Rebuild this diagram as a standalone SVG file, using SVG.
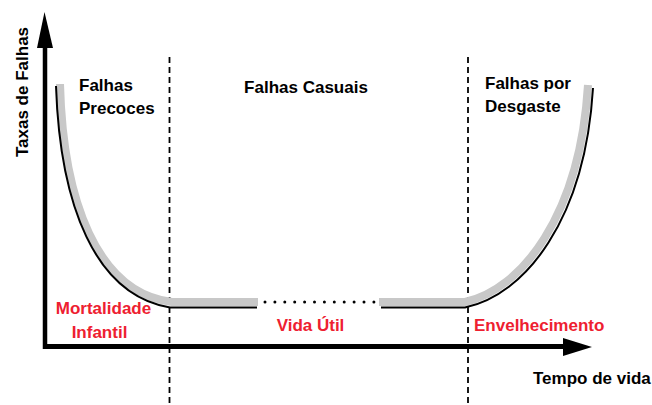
<svg xmlns="http://www.w3.org/2000/svg" width="652" height="405" viewBox="0 0 652 405">
<style>
.t{font-family:"Liberation Sans",Arial,sans-serif;font-weight:bold;font-size:17px;fill:#000}
.r{fill:#ee2030}
.d{stroke:#000;stroke-width:1.8;stroke-dasharray:6 4;fill:none}
.g{stroke:#c8c8c8;stroke-width:8;fill:none}
.b{stroke:#000;stroke-width:2;fill:none}
</style>
<rect width="652" height="405" fill="#fff"/>
<g id="dividers">
<line class="d" x1="169.5" y1="57" x2="169.5" y2="405"/>
<line class="d" x1="468" y1="57" x2="468" y2="405"/>
</g>
<g id="curve">
<path class="g" d="M60,84 C63,200 97,293 172,302 L258,302"/>
<path class="b" d="M56,86 C60,205 95,295 170,307.5 L257,307.5"/>
<path class="g" d="M379,302 L465,302 C521,290 580,216 588,85"/>
<path class="b" d="M381,307.5 L465,307.5 C525,295 585,220 593,88"/>
<line x1="265" y1="302" x2="374" y2="302" stroke="#000" stroke-width="3" stroke-linecap="round" stroke-dasharray="0 9.9"/>
</g>
<g id="axes">
<line x1="45" y1="44" x2="45" y2="349" stroke="#000" stroke-width="4.5"/>
<polygon points="44.5,12 37,48 53,48" fill="#000"/>
<line x1="43" y1="346.5" x2="566" y2="346.5" stroke="#000" stroke-width="5"/>
<polygon points="592,347 563,338 563,356" fill="#000"/>
</g>
<g id="labels">
<text class="t" transform="translate(28,92) rotate(-90)" text-anchor="middle">Taxas de Falhas</text>
<text class="t" x="79" y="91">Falhas</text>
<text class="t" x="79" y="114">Precoces</text>
<text class="t" x="306" y="93" text-anchor="middle">Falhas Casuais</text>
<text class="t" x="485" y="89">Falhas por</text>
<text class="t" x="485" y="112">Desgaste</text>
<text class="t r" x="103.5" y="314" text-anchor="middle">Mortalidade</text>
<text class="t r" x="99.5" y="338" text-anchor="middle">Infantil</text>
<text class="t r" x="310.5" y="331" text-anchor="middle">Vida Útil</text>
<text class="t r" x="474" y="331">Envelhecimento</text>
<text class="t" x="533" y="384">Tempo de vida</text>
</g>
</svg>
